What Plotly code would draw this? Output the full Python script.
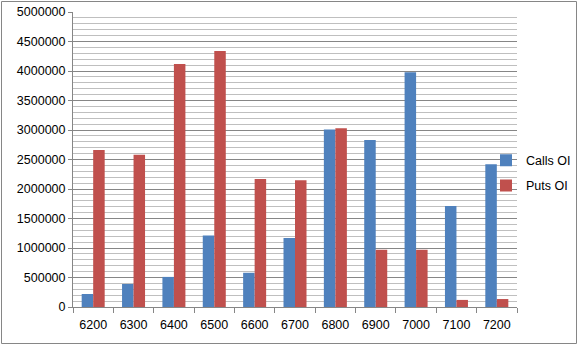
import plotly.graph_objects as go

strikes = ["6200", "6300", "6400", "6500", "6600", "6700", "6800", "6900", "7000", "7100", "7200"]
calls_oi = [220000, 390000, 510000, 1210000, 580000, 1170000, 3010000, 2830000, 3980000, 1710000, 2420000]
puts_oi = [2660000, 2580000, 4120000, 4340000, 2170000, 2150000, 3030000, 970000, 970000, 120000, 135000]
y_ticks = [0, 500000, 1000000, 1500000, 2000000, 2500000, 3000000, 3500000, 4000000, 4500000, 5000000]

W, H = 578, 346
L, R, T, B = 73, 61, 12, 39
pw, ph = W - L - R, H - T - B

fig = go.Figure()
fig.add_bar(x=strikes, y=calls_oi, name="Calls OI", marker_color="#4F81BD", marker_line_width=0,
            legendgroup="c")
fig.add_bar(x=strikes, y=puts_oi, name="Puts OI", marker_color="#C0504D", marker_line_width=0,
            legendgroup="p")

fig.update_layout(
    width=W, height=H,
    margin=dict(l=L, r=R, t=T, b=B, autoexpand=False),
    paper_bgcolor="white", plot_bgcolor="white",
    barmode="group", bargap=0.43, bargroupgap=0,
    font=dict(family="Liberation Sans, Arial, sans-serif", size=12.5, color="black"),
    legend=dict(x=(486 - L) / pw, y=(307 - 173) / ph, xanchor="left", yanchor="middle",
                bgcolor="rgba(0,0,0,0)", font=dict(size=12.5), traceorder="grouped",
                tracegroupgap=6, itemwidth=30),
    xaxis=dict(type="category", showline=True, linecolor="#868686", linewidth=1,
               ticks="outside", tickson="boundaries", ticklen=5, tickcolor="#868686",
               showgrid=False, tickfont=dict(size=12.5), ticklabelstandoff=6),
    yaxis=dict(range=[0, 5000000], tickvals=y_ticks, ticktext=[str(v) for v in y_ticks],
               showline=True, linecolor="#868686", linewidth=1,
               ticks="outside", ticklen=4, tickcolor="#868686",
               showgrid=True, gridcolor="#868686", gridwidth=1, zeroline=False,
               minor=dict(dtick=100000, showgrid=True, gridcolor="#BFBFBF", gridwidth=1),
               tickfont=dict(size=12.5)),
    shapes=[dict(type="rect", xref="paper", yref="paper",
                 x0=(1.5 - L) / pw, x1=(576.5 - L) / pw,
                 y0=(H - B - 343.5) / ph, y1=(H - B - 1.5) / ph,
                 line=dict(color="#868686", width=1), fillcolor="rgba(0,0,0,0)", layer="below")],
)

fig.write_html("out.html")
